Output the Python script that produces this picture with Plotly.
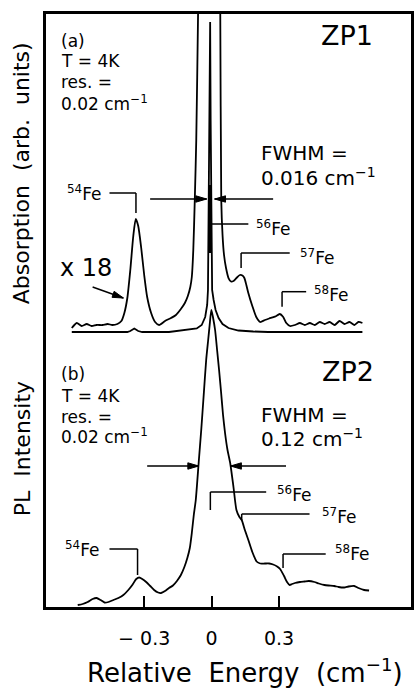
import math
import plotly.graph_objects as go

# ---------------- data ----------------
# Relative energy in cm^-1, intensities in arbitrary units
TICK_VALS = [-0.3, 0.0, 0.3]
TICK_TEXT = ["\u2212 0.3", "0", "0.3"]

# (a) absorption, x18 magnified trace (intensity relative to panel (a) baseline)
X18_X = [-0.6221, -0.6000, -0.5779, -0.5559, -0.5338, -0.5118, -0.4853, -0.4632, -0.4412,
         -0.4191, -0.4015, -0.3882, -0.3750, -0.3618, -0.3485, -0.3375, -0.3265, -0.3132,
         -0.3000, -0.2868, -0.2691, -0.2515, -0.2338, -0.2074, -0.1809, -0.1588, -0.1368,
         -0.1191, -0.1059, -0.0949, -0.0882, -0.0816, -0.0750, -0.0684, -0.0604, -0.0574,
         0.0353, 0.0384, 0.0428, 0.0485, 0.0551, 0.0640, 0.0750, 0.0860, 0.0971, 0.1103,
         0.1257, 0.1368, 0.1456, 0.1544, 0.1632, 0.1809, 0.1985, 0.2162, 0.2369, 0.2559,
         0.2810, 0.3031, 0.3176, 0.3322, 0.3485, 0.3706, 0.3926, 0.4147, 0.4368, 0.4588,
         0.4809, 0.5029, 0.5250, 0.5471, 0.5691, 0.5912, 0.6132, 0.6353, 0.6529, 0.6706]
X18_Y = [4, 9, 6, 8, 6, 7, 7, 8, 7,
         8, 11, 19, 34, 62, 96, 113, 106, 84,
         57, 35, 19, 10, 7, 11, 14, 17, 23,
         29, 36, 45, 55, 82, 132, 192, 318, 372,
         372, 318, 132, 97, 77, 64, 54, 50.5, 51, 54,
         57, 56.5, 54, 47, 39, 26, 15, 10, 12, 13.5,
         15.3, 18, 15.3, 9, 6, 7, 9, 7, 9, 7,
         10, 8, 10, 7, 11, 8, 10, 7, 10, 9]

# (a) absorption, unscaled trace
ABS_X = [-0.6221, -0.4985, -0.3750, -0.3618, -0.3441, -0.3265, -0.3088, -0.1897, -0.1015,
         -0.0662, -0.0441, -0.0287, -0.0199, -0.0163, -0.0150, -0.0119, -0.0088, -0.0066,
         -0.0044, -0.0022, 0.0000, 0.0022, 0.0088, 0.0176, 0.0309, 0.0485, 0.0750,
         0.1191, 0.1853, 0.2515, 0.6706]
ABS_Y = [0, 0, 0, 1, 3.5, 1, 0, 0, 2,
         3.5, 7, 15, 27, 42, 79, 182, 292, 310,
         212, 132, 72, 42, 32, 22, 14, 8, 4,
         1.5, 0.5, 0, 0]

# (b) photoluminescence
PL_X = [-0.5956, -0.5735, -0.5515, -0.5294, -0.5118, -0.4941, -0.4765, -0.4588, -0.4368,
        -0.4147, -0.3926, -0.3706, -0.3529, -0.3353, -0.3221, -0.3088, -0.2912, -0.2735,
        -0.2559, -0.2382, -0.2250, -0.2074, -0.1897, -0.1721, -0.1544, -0.1368, -0.1213,
        -0.1081, -0.0971, -0.0882, -0.0794, -0.0706, -0.0574, -0.0463, -0.0353, -0.0243,
        -0.0154, -0.0088, -0.0013, 0.0066, 0.0154, 0.0243, 0.0331, 0.0419, 0.0507,
        0.0596, 0.0706, 0.0825, 0.0971, 0.1103, 0.1235, 0.1337, 0.1478, 0.1632, 0.1809,
        0.1999, 0.2162, 0.2369, 0.2559, 0.2735, 0.2912, 0.3044, 0.3221, 0.3353, 0.3472,
        0.3574, 0.3706, 0.3926, 0.4134, 0.4324, 0.4575, 0.4765, 0.5016, 0.5206, 0.5457,
        0.5647, 0.5898, 0.6088, 0.6340, 0.6529, 0.6781, 0.7002]
PL_Y = [2, 3, 5, 8, 9, 7, 4.5, 5, 7,
        9, 12, 17, 22, 28, 29.5, 28, 25, 21,
        17, 14.5, 14, 16, 19, 21.5, 26, 32, 40,
        49, 59, 74, 92, 107, 145, 177, 212, 247,
        267, 282, 297, 289, 277, 257, 237, 215, 192,
        174, 157, 144, 120, 97, 90, 87, 77, 67, 55,
        45.5, 43.5, 43.5, 43.5, 42.5, 40.5, 38, 31, 25, 22,
        23, 24, 25, 25.5, 26, 25, 23.5, 22, 21.5, 21,
        20, 19.5, 20.5, 21, 19, 17, 16.5]

# ---------------- geometry helpers (layout only) ----------------
W, H = 420, 688
L, R, T, B = 46, 414, 14, 607
ZERO_PX = 213.0
SX = 226.67
A_OFFSET = 275  # vertical offset of panel (a) above the bottom frame

def dx(px):
    return (px - ZERO_PX) / SX

def dy(py):
    return B - py

def pxp(px):
    return (px - L) / (R - L)

def pyp(py):
    return (B - py) / (B - T)

FONT = "DejaVu Sans"
LW = 1.8

fig = go.Figure()
fig.add_trace(go.Scatter(x=X18_X, y=[v + A_OFFSET for v in X18_Y], mode="lines",
                         line=dict(color="black", width=LW, shape="spline", smoothing=0.6),
                         hoverinfo="skip"))
fig.add_trace(go.Scatter(x=ABS_X, y=[v + A_OFFSET for v in ABS_Y], mode="lines",
                         line=dict(color="black", width=LW), hoverinfo="skip"))
fig.add_trace(go.Scatter(x=PL_X, y=PL_Y, mode="lines",
                         line=dict(color="black", width=LW, shape="spline", smoothing=0.6),
                         hoverinfo="skip"))

shapes = []

def seg(x0, y0, x1, y1, w=1.5):
    shapes.append(dict(type="line", xref="x", yref="y", x0=dx(x0), y0=dy(y0),
                       x1=dx(x1), y1=dy(y1), line=dict(color="black", width=w)))

def arrow(tipx, tipy, tailx, taily, head=11, half=3.2):
    seg(tailx, taily, tipx, tipy, 1.5)
    ux, uy = tipx - tailx, tipy - taily
    n = math.hypot(ux, uy)
    ux, uy = ux / n, uy / n
    bx, by = tipx - ux * head, tipy - uy * head
    p1 = (bx - uy * half, by + ux * half)
    p2 = (bx + uy * half, by - ux * half)
    path = "M {} {} L {} {} L {} {} Z".format(dx(tipx), dy(tipy), dx(p1[0]), dy(p1[1]),
                                             dx(p2[0]), dy(p2[1]))
    shapes.append(dict(type="path", xref="x", yref="y", path=path, fillcolor="black",
                       line=dict(color="black", width=1)))

# isotope brackets, panel (a)
seg(110, 193, 136.7, 193); seg(136.7, 193, 136.7, 213)
seg(213, 224, 250, 224); seg(211.5, 185, 211.5, 253, 3)
seg(242.7, 253, 291.7, 253); seg(242.7, 253, 242.7, 268)
seg(284, 291.7, 308.3, 291.7); seg(284, 291.7, 284, 306.7)
# isotope brackets, panel (b)
seg(110, 549, 138.3, 549); seg(138.3, 549, 138.3, 575)
seg(211.7, 492, 268, 492); seg(211.7, 492, 211.7, 510)
seg(243.3, 514, 311.7, 514); seg(243.3, 514, 243.3, 520)
seg(285, 554, 328, 554); seg(285, 554, 285, 568)

# arrows
arrow(124, 298, 93, 287)
arrow(208, 199, 151, 199)
arrow(216, 199, 275, 199)
arrow(200, 466, 148, 466)
arrow(232, 466, 288, 466)

ann = []

def text(px, py, s, size, xanchor="left", yanchor="middle", angle=0, paper=False):
    if paper:
        ann.append(dict(xref="paper", yref="paper", x=pxp(px), y=pyp(py), text=s,
                        showarrow=False, xanchor=xanchor, yanchor=yanchor, textangle=angle,
                        font=dict(family=FONT, size=size, color="black")))
    else:
        ann.append(dict(xref="x", yref="y", x=dx(px), y=dy(py), text=s, showarrow=False,
                        xanchor=xanchor, yanchor=yanchor, textangle=angle,
                        font=dict(family=FONT, size=size, color="black")))

# panel (a) text
for i, s in enumerate(["(a)", "T = 4K", "res. =", "0.02 cm<sup>\u22121</sup>"]):
    text(59, [41, 61, 82, 103][i], s, 17)
text(349, 35, "ZP1", 27, xanchor="center")
text(261, 153, "FWHM =", 20)
text(261, 177, "0.016 cm<sup>\u22121</sup>", 20)
text(86, 268, "x 18", 24, xanchor="center")
text(84, 193, "<sup>54</sup>Fe", 17, xanchor="center")
text(275, 228, "<sup>56</sup>Fe", 17, xanchor="center")
text(319, 257, "<sup>57</sup>Fe", 17, xanchor="center")
text(333, 294, "<sup>58</sup>Fe", 17, xanchor="center")

# panel (b) text
for i, s in enumerate(["(b)", "T = 4K", "res. =", "0.02 cm<sup>\u22121</sup>"]):
    text(59, [374, 396, 417, 436][i], s, 17)
text(350, 371, "ZP2", 27, xanchor="center")
text(261, 415, "FWHM =", 20)
text(261, 438, "0.12 cm<sup>\u22121</sup>", 20)
text(82, 549, "<sup>54</sup>Fe", 17, xanchor="center")
text(296, 494, "<sup>56</sup>Fe", 17, xanchor="center")
text(341, 516, "<sup>57</sup>Fe", 17, xanchor="center")
text(355, 553, "<sup>58</sup>Fe", 17, xanchor="center")

# axis titles
text(247, 671, "Relative\u00a0 Energy\u00a0 (cm<sup>\u22121</sup>)", 26, xanchor="center", paper=True)
text(22, 173, "Absorption\u00a0 (arb.\u00a0 units)", 22, xanchor="center", angle=-90, paper=True)
text(22, 449, "PL\u00a0 Intensity", 22, xanchor="center", angle=-90, paper=True)

fig.update_layout(
    width=W, height=H,
    margin=dict(l=L, r=W - R, t=T, b=H - B, pad=0),
    paper_bgcolor="white", plot_bgcolor="white", showlegend=False,
    font=dict(family=FONT, color="black"),
    shapes=shapes, annotations=ann,
    xaxis=dict(range=[dx(L), dx(R)], showgrid=False, zeroline=False, showline=True,
               linecolor="black", linewidth=2.5, mirror=True, ticks="inside", ticklen=11,
               tickwidth=1.5, tickcolor="black", tickvals=TICK_VALS, ticktext=TICK_TEXT,
               tickfont=dict(family=FONT, size=19, color="black"), ticklabelstandoff=12,
               fixedrange=True),
    yaxis=dict(range=[0, B - T], showgrid=False, zeroline=False, showline=True,
               linecolor="black", linewidth=2.5, mirror=True, showticklabels=False,
               ticks="", fixedrange=True),
)

fig.write_html("out.html")
